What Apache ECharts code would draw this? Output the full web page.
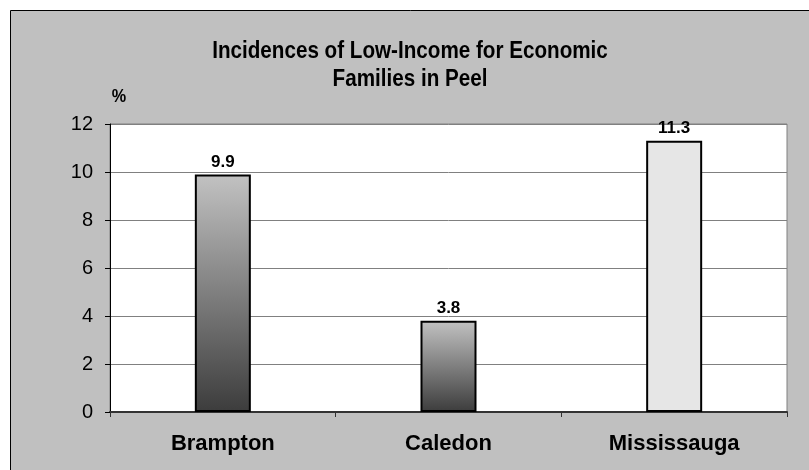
<!DOCTYPE html>
<html>
<head>
<meta charset="utf-8">
<script src="https://cdn.jsdelivr.net/npm/echarts@6/dist/echarts.min.js"></script>
<style>
  html, body { margin: 0; padding: 0; background: #ffffff; }
  #chart { width: 809px; height: 470px; }
</style>
</head>
<body>
<div id="chart"></div>
<script>
// Low-income incidence (%) for economic families, by Peel municipality
const municipalities = ['Brampton', 'Caledon', 'Mississauga'];
const lowIncomePct = [9.9, 3.8, 11.3];
const yTicks = { min: 0, max: 12, step: 2 };
const titleLines = ['Incidences of Low-Income for Economic', 'Families in Peel'];
const unitLabel = '%';

const FONT = '"Liberation Sans", Arial, sans-serif';

const darkGradient = new echarts.graphic.LinearGradient(0, 0, 0, 1, [
  { offset: 0, color: '#c2c2c2' },
  { offset: 1, color: '#3c3c3c' }
]);

const barColors = [darkGradient, darkGradient, '#e6e6e6'];

// Condensed bold title lines (horizontally squeezed)
const titleGraphics = titleLines.map((line, i) => ({
  type: 'text',
  x: 410,
  y: 51 + i * 28,
  scaleX: 0.86,
  style: {
    text: line,
    font: 'bold 24px ' + FONT,
    fill: '#000',
    textAlign: 'center',
    textVerticalAlign: 'middle'
  }
}));

const chart = echarts.init(document.getElementById('chart'), null, { renderer: 'canvas' });

chart.setOption({
  backgroundColor: '#ffffff',
  animation: false,
  graphic: [
    {
      type: 'rect',
      z: -10,
      shape: { x: 10.5, y: 10.5, width: 830, height: 500 },
      style: { fill: '#c0c0c0', stroke: '#000000', lineWidth: 1 }
    },
    {
      type: 'text',
      x: 119,
      y: 97,
      scaleX: 0.9,
      style: {
        text: unitLabel,
        font: 'bold 18px ' + FONT,
        fill: '#000',
        textAlign: 'center',
        textVerticalAlign: 'middle'
      }
    }
  ].concat(titleGraphics),
  grid: {
    left: 110,
    top: 124,
    right: 22,
    bottom: 58,
    show: true,
    backgroundColor: '#ffffff',
    borderColor: '#808080',
    borderWidth: 1,
    containLabel: false
  },
  xAxis: {
    type: 'category',
    data: municipalities,
    axisLine: { lineStyle: { color: '#333333', width: 2 } },
    axisTick: { show: true, length: 5, lineStyle: { color: '#333333' } },
    axisLabel: {
      margin: 21,
      fontFamily: FONT,
      fontWeight: 'bold',
      fontSize: 22,
      color: '#000'
    }
  },
  yAxis: {
    type: 'value',
    min: yTicks.min,
    max: yTicks.max,
    interval: yTicks.step,
    axisLine: { show: true, lineStyle: { color: '#000000', width: 1 } },
    axisTick: { show: true, length: 5, lineStyle: { color: '#000000' } },
    axisLabel: {
      margin: 17,
      fontFamily: FONT,
      fontSize: 20,
      color: '#000'
    },
    splitLine: { show: true, lineStyle: { color: '#808080', width: 1 } }
  },
  series: [
    {
      type: 'bar',
      barWidth: 56,
      data: lowIncomePct.map((v, i) => ({
        value: v,
        itemStyle: { color: barColors[i] }
      })),
      itemStyle: { borderColor: '#000000', borderWidth: 2 },
      label: {
        show: true,
        position: 'top',
        distance: 4,
        formatter: p => p.value.toFixed(1),
        fontFamily: FONT,
        fontWeight: 'bold',
        fontSize: 17,
        color: '#000'
      }
    }
  ]
});
</script>
</body>
</html>
